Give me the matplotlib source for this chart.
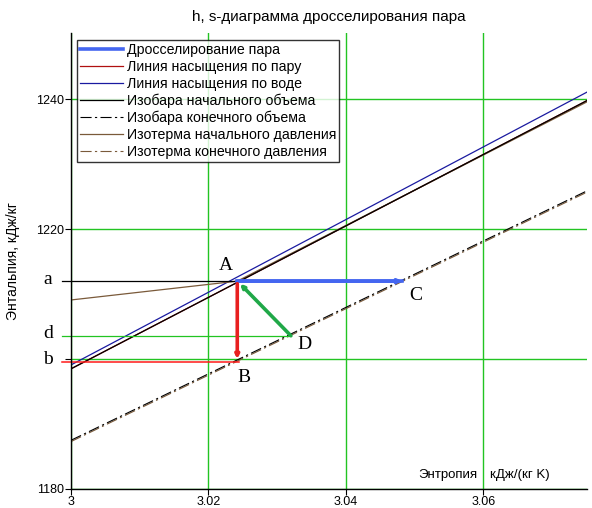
import matplotlib
matplotlib.use("Agg")
import matplotlib.pyplot as plt

# states of the throttling process, s in kJ/(kg K), h in kJ/kg
s_A, h_A = 3.0242, 1212.0
s_B, h_B = 3.0242, 1199.6
s_C, h_C = 3.0482, 1212.0
s_D, h_D = 3.0320, 1203.6

# saturation / isobar / isotherm lines
s_edge = [3.0, 3.0751]
h_water = [1199.1, 1241.1]
h_vapour = [1198.5, 1239.8]
h_iso_v1 = [1198.5, 1239.8]
h_iso_v2 = [1187.5, 1225.9]
s_iso_t1 = [3.0, 3.0242, 3.0751]
h_iso_t1 = [1209.1, 1212.0, 1239.6]
h_iso_t2 = [1187.3, 1225.7]

xticks = [3.0, 3.02, 3.04, 3.06]
xtick_labels = ["3", "3.02", "3.04", "3.06"]
yticks = [1180, 1200, 1220, 1240]
ytick_labels = ["1180", "", "1220", "1240"]

labels = [
    "Дросселирование пара",
    "Линия насыщения по пару",
    "Линия насыщения по воде",
    "Изобара начального объема",
    "Изобара конечного объема",
    "Изотерма начального давления",
    "Изотерма конечного давления",
]

plt.rcParams["font.family"] = ["Liberation Sans", "DejaVu Sans"]

GREEN = "#22c422"
BROWN = "#7a5a3a"
DASH = (0, (10, 3, 2, 3))

fig = plt.figure(figsize=(5.92, 5.08), dpi=100)
ax = fig.add_axes([71 / 592, 19 / 508, 516 / 592, 456 / 508])
ax.set_xlim(3.0, 3.0751)
ax.set_ylim(1180, 1250.2)

ax.set_xticks(xticks)
ax.set_xticklabels(xtick_labels)
ax.set_yticks(yticks)
ax.set_yticklabels(ytick_labels)
ax.tick_params(labelsize=9, length=4, width=0.8, pad=1)
for side in ("top", "right"):
    ax.spines[side].set_visible(False)
for side in ("left", "bottom"):
    ax.spines[side].set_linewidth(1.0)
    ax.spines[side].set_zorder(5)
ax.grid(True, color=GREEN, lw=1.0)
ax.set_axisbelow(True)

# helper lines to the side labels
x_out = 3.0 - 0.0013
ax.plot([x_out, s_A], [h_A, h_A], color="black", lw=0.9, clip_on=False, zorder=3.5)
ax.plot([x_out, s_D], [h_D, h_D], color=GREEN, lw=0.9, clip_on=False, zorder=3.5)
ax.plot([x_out, s_B + 0.0003], [h_B, h_B], color="#ff1a1a", lw=1.1,
        clip_on=False, zorder=3.5)

l_v, = ax.plot(s_edge, h_vapour, color="#b01010", lw=0.9, zorder=3)
l_w, = ax.plot(s_edge, h_water, color="#1a1aa0", lw=0.9, zorder=3)
l_t1, = ax.plot(s_iso_t1, h_iso_t1, color=BROWN, lw=0.9, zorder=3)
l_v1, = ax.plot(s_edge, h_iso_v1, color="black", lw=0.9, zorder=3)
l_t2, = ax.plot(s_edge, h_iso_t2, color=BROWN, lw=0.8, linestyle=DASH, zorder=3)
l_v2, = ax.plot(s_edge, h_iso_v2, color="black", lw=0.8, linestyle=DASH, zorder=3)

# throttling process arrows
l_thr, = ax.plot([s_A, s_C], [h_A, h_C], color="#4466f0", lw=2.6, zorder=4)
ax.annotate("", xy=(s_C, h_C), xytext=(s_A, h_A),
            arrowprops=dict(arrowstyle="-|>", color="#4466f0", lw=2.6,
                            mutation_scale=5, shrinkA=0, shrinkB=0), zorder=4)
ax.annotate("", xy=(s_B, h_B + 0.4), xytext=(s_A, h_A - 0.4),
            arrowprops=dict(arrowstyle="-|>", color="#e82020", lw=2.6,
                            mutation_scale=5, shrinkA=0, shrinkB=0), zorder=4)
ax.annotate("", xy=(s_A + 0.0004, h_A - 0.4), xytext=(s_D, h_D),
            arrowprops=dict(arrowstyle="-|>", color="#20a848", lw=2.6,
                            mutation_scale=5, shrinkA=0, shrinkB=0), zorder=4)

serif = dict(family=["Liberation Serif", "DejaVu Serif"], fontsize=14)
ax.text(3.0225, 1214.4, "A", ha="center", va="center", **serif)
ax.text(3.0252, 1197.2, "B", ha="center", va="center", **serif)
ax.text(3.0502, 1209.8, "C", ha="center", va="center", **serif)
ax.text(3.0340, 1202.3, "D", ha="center", va="center", **serif)
ytr = ax.get_yaxis_transform()
for txt, h in (("a", h_A), ("d", h_D), ("b", h_B)):
    ax.text(-0.045, h + 0.3, txt, transform=ytr, ha="center", va="center", **serif)

ax.text(3.0592, 1182.2, "Энтропия", ha="right", va="center", fontsize=9.5)
ax.text(3.0610, 1182.2, "кДж/(кг K)", ha="left", va="center", fontsize=9.5)
ax.set_ylabel("Энтальпия, кДж/кг", fontsize=10)
ax.yaxis.set_label_coords(-0.099, 0.5)
ax.set_title("h, s-диаграмма дросселирования пара", fontsize=11, pad=9)

leg = ax.legend([l_thr, l_v, l_w, l_v1, l_v2, l_t1, l_t2], labels,
                loc="upper left", bbox_to_anchor=(0.012, 0.984), borderaxespad=0,
                fontsize=10.2, frameon=True, fancybox=False, handlelength=3.0,
                handletextpad=0.3, labelspacing=0.2, borderpad=0.2)
leg.get_frame().set_edgecolor("black")
leg.get_frame().set_linewidth(1.0)
leg.set_zorder(6)

fig.savefig("out.png", dpi=100)
